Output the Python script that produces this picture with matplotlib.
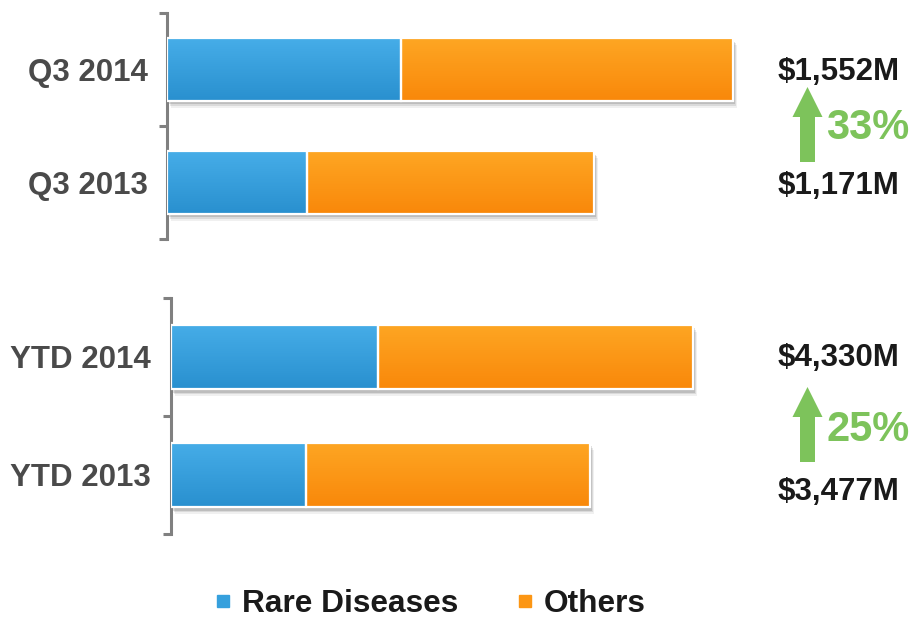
import numpy as np
import matplotlib.pyplot as plt
from matplotlib.colors import LinearSegmentedColormap
from matplotlib.patches import Rectangle, FancyArrow
from matplotlib.lines import Line2D
import matplotlib.transforms as mtransforms

plt.rcParams['font.family'] = ['Liberation Sans', 'DejaVu Sans']

# revenue in $M, per period pair (latest first)
q3_labels = ['Q3 2014', 'Q3 2013']
q3_rare = [642, 384]
q3_total = [1552, 1171]

ytd_labels = ['YTD 2014', 'YTD 2013']
ytd_rare = [1717, 1120]
ytd_total = [4330, 3477]

series_names = ['Rare Diseases', 'Others']
blue_top, blue_bot = '#46ade8', '#2990cf'
orange_top, orange_bot = '#fea623', '#f9880a'
label_gray = '#4a4a4a'
green = '#7dc35b'

fig = plt.figure(figsize=(9.17, 6.18), dpi=100)
W, H = 917, 618


def grad_fill(ax, x0, x1, yc, h, top, bot):
    cmap = LinearSegmentedColormap.from_list('g', [bot, top])
    g = np.linspace(0, 1, 64).reshape(-1, 1)
    ax.imshow(g, cmap=cmap, extent=(x0, x1, yc - h / 2, yc + h / 2),
              origin='lower', aspect='auto', zorder=3, interpolation='bilinear')


def draw_group(rect, labels, rare, total, xmax, pad):
    ax = fig.add_axes(rect)
    ypos = np.array([1, 0])
    h = 0.55
    others = [t - r for t, r in zip(total, rare)]

    # soft drop shadow under each full bar
    for k, a in [(7, 0.06), (5, 0.09), (3.5, 0.13)]:
        off = mtransforms.ScaledTranslation(k * 0.6 / 100, -k / 100, fig.dpi_scale_trans)
        for y, t in zip(ypos, total):
            ax.add_patch(Rectangle((0, y - h / 2), t, h, facecolor='black', alpha=a,
                                   edgecolor='none', transform=ax.transData + off, zorder=1))

    for y, r, o in zip(ypos, rare, others):
        grad_fill(ax, 0, r, y, h, blue_top, blue_bot)
        grad_fill(ax, r, r + o, y, h, orange_top, orange_bot)
    ax.barh(ypos, rare, height=h, facecolor='none', edgecolor='white', linewidth=1.6, zorder=4)
    ax.barh(ypos, others, left=rare, height=h, facecolor='none', edgecolor='white',
            linewidth=1.6, zorder=4)

    ax.set_xlim(0, xmax)
    ax.set_ylim(-0.5, 1.5)
    for s in ['top', 'right', 'bottom']:
        ax.spines[s].set_visible(False)
    ax.spines['left'].set_color('#808080')
    ax.spines['left'].set_linewidth(2.2)
    ax.set_xticks([])
    ax.set_yticks(ypos)
    ax.set_yticklabels(labels, fontsize=22.5, fontweight='bold', color=label_gray)
    ax.tick_params(axis='y', which='major', length=0, pad=pad)
    ax.set_yticks([-0.5, 0.5, 1.5], minor=True)
    ax.tick_params(axis='y', which='minor', length=6, width=2.2, color='#808080')
    return ax


draw_group([167 / W, 1 - 239 / H, 0.795, 226 / H], q3_labels, q3_rare, q3_total, 2000, 13.7)
draw_group([171 / W, 1 - 534 / H, 0.789, 236 / H], ytd_labels, ytd_rare, ytd_total, 6000, 14.4)

# overlay in pixel units for growth callouts
ov = fig.add_axes([0, 0, 1, 1])
ov.set_xlim(0, W)
ov.set_ylim(H, 0)
ov.axis('off')

callouts = [
    (q3_total, 72, 186, 87, 162, 128),
    (ytd_total, 358, 492, 387, 462, 430),
]
for tot, y_new, y_old, tip, base, y_pct in callouts:
    ov.text(839, y_new, f'${tot[0]:,}M', fontsize=22.5, fontweight='bold',
            color='#1a1a1a', ha='center', va='center')
    ov.text(839, y_old, f'${tot[1]:,}M', fontsize=22.5, fontweight='bold',
            color='#1a1a1a', ha='center', va='center')
    ov.add_patch(FancyArrow(807.5, base, 0, tip - base, width=15, head_width=30,
                            head_length=30, length_includes_head=True,
                            color=green, linewidth=0))
    pct = round((tot[0] / tot[1] - 1) * 100)
    ov.text(826, y_pct, f'{pct}%', fontsize=30, fontweight='bold', color=green,
            ha='left', va='center')

handles = [Line2D([], [], marker='s', linestyle='none', markersize=8.5,
                  markerfacecolor=c, markeredgecolor=c) for c in ['#36a0dd', '#fc9614']]
fig.legend(handles, series_names, loc='center', bbox_to_anchor=(430 / W, 1 - 604 / H),
           ncol=2, frameon=False, prop={'size': 22.8, 'weight': 'bold'},
           handletextpad=0.3, columnspacing=1.8, handlelength=0.6, labelcolor='#1a1a1a')

fig.savefig('out.png', dpi=100)
